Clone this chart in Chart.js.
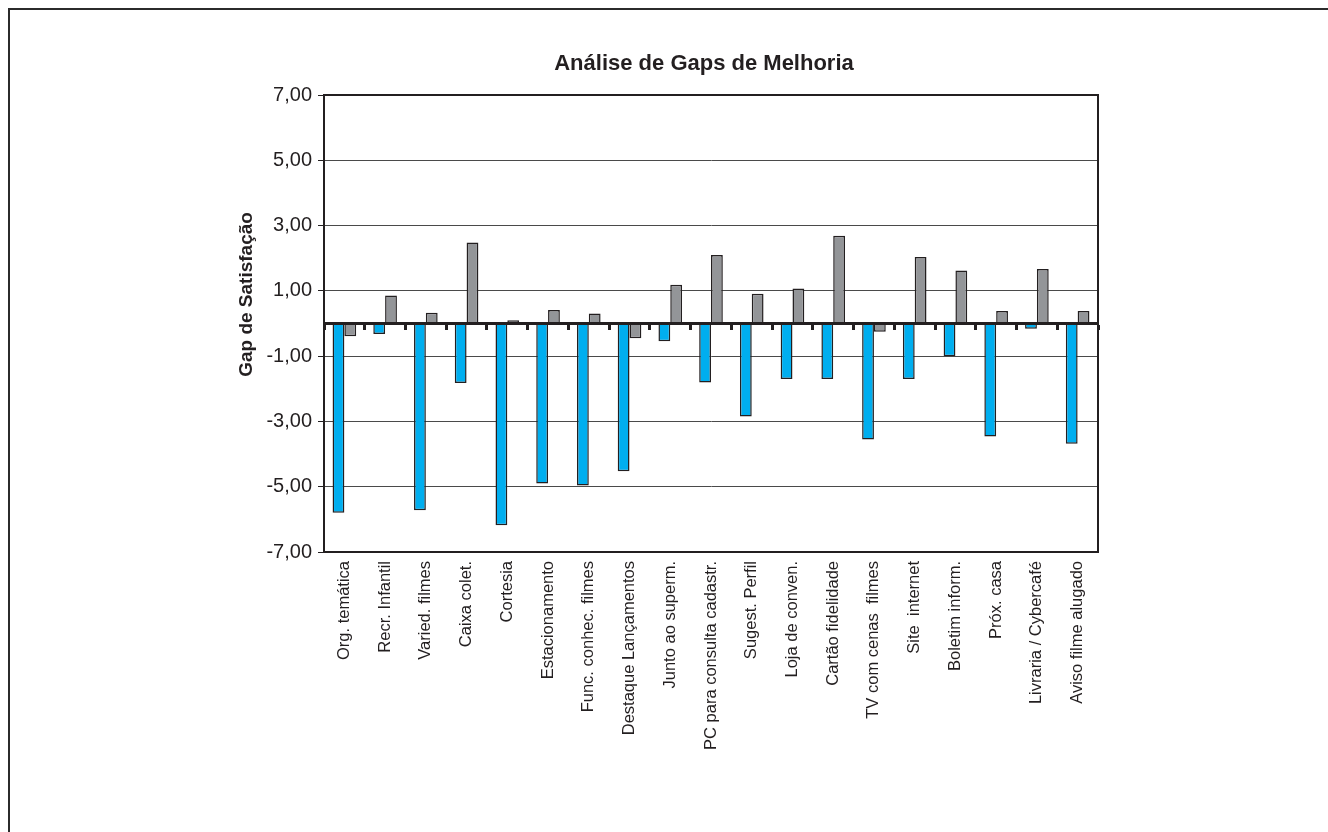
<!DOCTYPE html>
<html>
<head>
<meta charset="utf-8">
<script src="https://cdn.jsdelivr.net/npm/chart.js@4.4.1/dist/chart.umd.min.js"></script>
<style>
  html, body { margin: 0; padding: 0; background: #ffffff; overflow: hidden; }
  #frame { position: absolute; left: 8px; top: 8px; width: 1400px; height: 900px;
           border-left: 2px solid #2b2b2b; border-top: 2px solid #2b2b2b; }
  #wrap { position: absolute; left: 0; top: 0; width: 1328px; height: 832px; }
</style>
</head>
<body>
<div id="frame"></div>
<div id="wrap"><canvas id="c" width="1328" height="832"></canvas></div>
<script>
const categories = [
  "Org. temática", "Recr. Infantil", "Varied. filmes", "Caixa colet.", "Cortesia",
  "Estacionamento", "Func. conhec. filmes", "Destaque Lançamentos", "Junto ao superm.",
  "PC para consulta cadastr.", "Sugest. Perfil", "Loja de conven.", "Cartão fidelidade",
  "TV com cenas  filmes", "Site  internet", "Boletim inform.", "Próx. casa",
  "Livraria / Cybercafé", "Aviso filme alugado"
];
const seriesBlue = [-5.80, -0.32, -5.72, -1.82, -6.18, -4.90, -4.96, -4.53, -0.54, -1.81,
                    -2.85, -1.70, -1.70, -3.55, -1.70, -1.00, -3.46, -0.16, -3.68];
const seriesGray = [-0.39, 0.86, 0.33, 2.48, 0.10, 0.41, 0.31, -0.45, 1.19, 2.10,
                    0.91, 1.07, 2.69, -0.25, 2.04, 1.62, 0.38, 1.67, 0.38];
const yTicks = { min: -7, max: 7, step: 2 };
const chartTitle = "Análise de Gaps de Melhoria";
const yTitle = "Gap de Satisfação";

const INK = '#231f20';
const FONT = "'Liberation Sans', Arial, Helvetica, sans-serif";

new Chart(document.getElementById('c'), {
  type: 'bar',
  data: {
    labels: categories,
    datasets: [
      { label: 'Série1', data: seriesBlue, backgroundColor: '#00aeef',
        borderColor: INK, borderWidth: 1.5, borderSkipped: false },
      { label: 'Série2', data: seriesGray, backgroundColor: '#939598',
        borderColor: INK, borderWidth: 1.5, borderSkipped: false }
    ]
  },
  options: {
    responsive: false,
    animation: false,
    devicePixelRatio: 1,
    layout: { padding: { left: 230, right: 150, top: 0, bottom: 0 } },
    datasets: { bar: { categoryPercentage: 0.58, barPercentage: 1.0 } },
    plugins: {
      legend: { display: false },
      tooltip: { enabled: false },
      title: {
        display: true, text: chartTitle, color: INK,
        font: { family: FONT, size: 22, weight: 'bold', lineHeight: 1.2 },
        padding: { top: 51, bottom: 17.6 }
      }
    },
    scales: {
      x: {
        type: 'category',
        position: 'bottom',
        grid: { display: true, drawOnChartArea: false, drawTicks: false },
        border: { display: true, color: INK, width: 2 },
        ticks: {
          color: INK, autoSkip: false, maxRotation: 90, minRotation: 90, padding: 9,
          font: { family: FONT, size: 16.5 }
        },
        afterFit: (s) => { s.height = 280; }
      },
      xTop: {
        type: 'category',
        position: 'top',
        offset: true,
        grid: { display: true, drawOnChartArea: false, drawTicks: false },
        border: { display: true, color: INK, width: 2 },
        ticks: { display: false },
        afterFit: (s) => { s.height = 0; }
      },
      x2: {
        type: 'category',
        position: { y: 0 },
        offset: true,
        grid: { display: true, offset: true, drawOnChartArea: false, drawTicks: true,
                tickLength: 5, tickWidth: 3, tickColor: INK, z: 1 },
        border: { display: true, color: INK, width: 3, z: 1 },
        ticks: { display: false }
      },
      y: {
        type: 'linear',
        position: 'left',
        min: yTicks.min, max: yTicks.max,
        grid: { color: '#4a4a4a', lineWidth: 1, drawTicks: true, tickLength: 6,
                tickColor: INK, tickWidth: 1 },
        border: { display: true, color: INK, width: 2 },
        ticks: {
          stepSize: yTicks.step, color: INK, padding: 6,
          font: { family: FONT, size: 20 },
          callback: (v) => v.toFixed(2).replace('.', ',')
        },
        title: {
          display: true,
          text: '           ' + yTitle,
          color: INK,
          font: { family: FONT, size: 19, weight: 'bold', lineHeight: 1.2 },
          padding: { top: 5, bottom: 0 }
        },
        afterFit: (s) => { s.width = 94; }
      },
      y2: {
        type: 'linear',
        position: 'right',
        min: yTicks.min, max: yTicks.max,
        grid: { display: true, drawOnChartArea: false, drawTicks: false },
        border: { display: true, color: INK, width: 2 },
        ticks: { display: false },
        afterFit: (s) => { s.width = 80; }
      }
    }
  }
});
</script>
</body>
</html>
